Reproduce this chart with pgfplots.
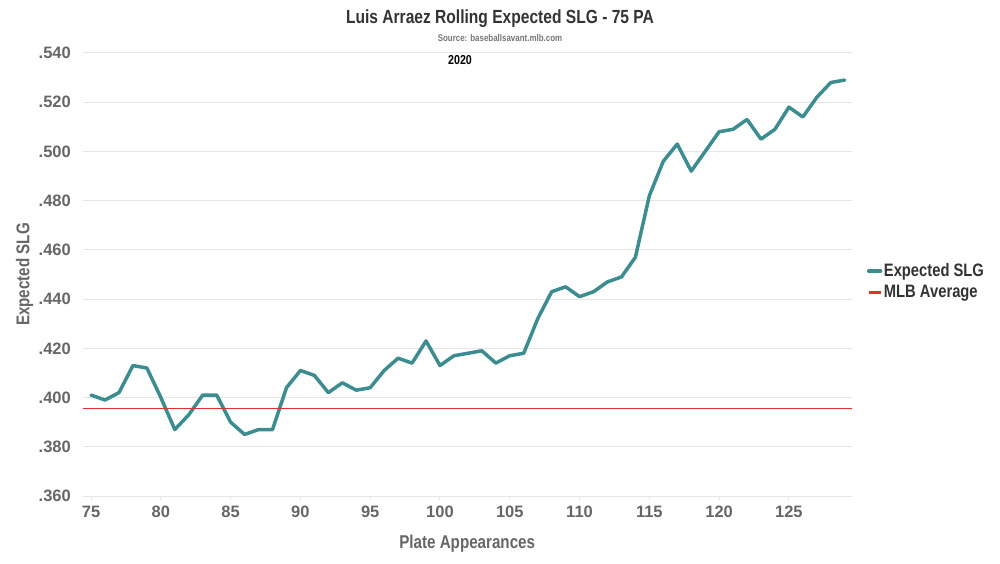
\documentclass[border=0pt]{standalone}
\usepackage{fontspec}
\setmainfont{Liberation Sans}[FakeStretch=0.82]
\newfontfamily\tickfont{Liberation Sans}
\usepackage{pgfplots}
\pgfplotsset{compat=1.18}
\definecolor{xteal}{HTML}{3D8C90}
\definecolor{xred}{HTML}{E0312B}
\definecolor{gridc}{HTML}{E6E6E6}
\definecolor{lblc}{HTML}{666666}
\definecolor{darkc}{HTML}{333333}
\definecolor{srcc}{HTML}{777777}
\pgfplotstableread{
pa xslg
75 0.401
76 0.399
77 0.402
78 0.413
79 0.412
80 0.400
81 0.387
82 0.393
83 0.401
84 0.401
85 0.390
86 0.385
87 0.387
88 0.387
89 0.404
90 0.411
91 0.409
92 0.402
93 0.406
94 0.403
95 0.404
96 0.411
97 0.416
98 0.414
99 0.423
100 0.413
101 0.417
102 0.418
103 0.419
104 0.414
105 0.417
106 0.418
107 0.432
108 0.443
109 0.445
110 0.441
111 0.443
112 0.447
113 0.449
114 0.457
115 0.482
116 0.496
117 0.503
118 0.492
119 0.500
120 0.508
121 0.509
122 0.513
123 0.505
124 0.509
125 0.518
126 0.514
127 0.522
128 0.528
129 0.529
}\xslgdata
\begin{document}
\begin{tikzpicture}
\begin{scope}[x=1pt,y=1pt,shift={(-82.7pt,-67pt)}]
\path[use as bounding box] (0,0) rectangle (1000,563);
\node[anchor=base, text=darkc, font=\bfseries\fontsize{19}{19}\selectfont] at (500,539) {Luis Arraez Rolling Expected SLG - 75 PA};
\node[anchor=base, text=srcc, font=\bfseries\fontsize{9.7}{9.7}\selectfont] at (500,521.5) {Source: baseballsavant.mlb.com};
\node[anchor=base, text=black, font=\bfseries\fontsize{13}{13}\selectfont] at (460,498) {2020};
\end{scope}
\begin{axis}[
  anchor=south west,
  scale only axis, width=769pt, height=443pt,
  xmin=74.4, xmax=129.5, ymin=0.36, ymax=0.54,
  xtick={75,80,...,125},
  ytick={0.36,0.38,0.40,0.42,0.44,0.46,0.48,0.50,0.52,0.54},
  scaled y ticks=false,
  /pgf/number format/assume math mode=true,
  yticklabel={\pgfmathprintnumber[fixed,fixed zerofill,precision=3,skip 0.]{\tick}},
  xtick pos=bottom, ytick pos=left,
  tick align=outside, major tick length=4pt,
  xtick style={draw=gridc, line width=1pt},
  ytick style={draw=none},
  ymajorgrids, grid style={draw=gridc, line width=1pt},
  axis line style={draw=none},
  tick label style={font=\tickfont\bfseries\fontsize{16.5}{16.5}\selectfont, text=lblc, inner sep=0pt},
  xticklabel style={anchor=north, yshift=-6pt},
  yticklabel style={anchor=east, xshift=-7.7pt},
  label style={font=\bfseries\fontsize{18.5}{18.5}\selectfont, text=lblc},
  xlabel={Plate Appearances},
  xlabel style={at={(axis description cs:0.5,-0.1174)}, anchor=base},
  ylabel={Expected SLG},
  ylabel style={at={(axis description cs:-0.0692,0.5)}, anchor=base},
  legend cell align=left,
  legend style={at={(1,0.484)}, anchor=west, xshift=15pt, draw=none, fill=none,
    inner sep=0pt, row sep=4pt,
    font=\bfseries\fontsize{18}{18}\selectfont, text=darkc,
    nodes={inner sep=1.5pt}},
  legend image code/.code={\draw[#1,line width=3.5pt] (0pt,0pt) -- (12pt,0pt);},
  clip=false,
]
\addplot[xteal, line width=3.5pt, line join=round, line cap=round] table[x=pa,y=xslg]{\xslgdata};
\addlegendentry{Expected SLG}
\addplot[xred, line width=1.2pt] coordinates {(74.4,0.3955) (129.5,0.3955)};
\addlegendentry{MLB Average}
\end{axis}
\end{tikzpicture}
\end{document}
